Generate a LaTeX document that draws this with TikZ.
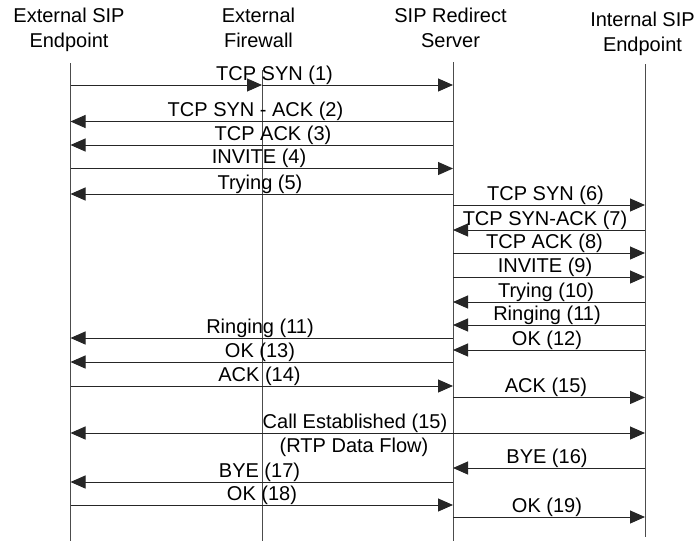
\documentclass[tikz,border=0pt]{standalone}
\usepackage{fontspec}
\setmainfont{Liberation Sans}
\usetikzlibrary{arrows.meta}
\begin{document}
\begin{tikzpicture}[x=1pt,y=-1pt,
  lifeline/.style={draw=black!70,line width=1pt},
  msg/.style={draw=black!85,line width=1pt,-{Triangle[length=15pt,width=13pt]}},
  dmsg/.style={draw=black!85,line width=1pt,{Triangle[length=15pt,width=13pt]}-{Triangle[length=15pt,width=13pt]}},
  lbl/.style={inner sep=0pt,anchor=base,font=\fontsize{20}{25}\selectfont},
  head/.style={inner sep=0pt,anchor=base,align=center,font=\fontsize{20}{25}\selectfont}]
\useasboundingbox[fill=white] (0,0) rectangle (696,541);
% headers (anchor at baseline of the last line)
\node[head] (hA) at (69,47) {External SIP\\Endpoint};
\node[head] (hF) at (258.5,47) {External\\Firewall};
\node[head] (hS) at (450.5,47) {SIP Redirect\\Server};
\node[head] (hI) at (642.5,51) {Internal SIP\\Endpoint};
% lifelines
\coordinate (A) at (70.5,63);   \coordinate (Ab) at (70.5,541);
\coordinate (F) at (262,70);    \coordinate (Fb) at (262,541);
\coordinate (S) at (453,62);    \coordinate (Sb) at (453,541);
\coordinate (I) at (645,64);    \coordinate (Ib) at (645,537);
\draw[lifeline] (A) -- (Ab);
\draw[lifeline] (F) -- (Fb);
\draw[lifeline] (S) -- (Sb);
\draw[lifeline] (I) -- (Ib);
% rows
\foreach \n/\y in {r1/85,r2/121.5,r3/145,r4/168.5,r5/194,r6/205,r7/230,r8/253,r9/277,r10/302,r11/325,r12/350,r13/338,r14/362,r15/386,r16/397.5,r17/433,r18/468,r19/482,r20/505,r21/517}
  \coordinate (\n) at (0,\y);
% messages
\draw[msg] (A |- r1) -- (F |- r1);
\draw[msg] (F |- r1) -- (S |- r1);
\draw[msg] (S |- r2) -- (A |- r2);
\draw[msg] (S |- r3) -- (A |- r3);
\draw[msg] (A |- r4) -- (S |- r4);
\draw[msg] (S |- r5) -- (A |- r5);
\draw[msg] (S |- r6) -- (I |- r6);
\draw[msg] (I |- r7) -- (S |- r7);
\draw[msg] (S |- r8) -- (I |- r8);
\draw[msg] (S |- r9) -- (I |- r9);
\draw[msg] (I |- r10) -- (S |- r10);
\draw[msg] (I |- r11) -- (S |- r11);
\draw[msg] (I |- r12) -- (S |- r12);
\draw[msg] (S |- r13) -- (A |- r13);
\draw[msg] (S |- r14) -- (A |- r14);
\draw[msg] (A |- r15) -- (S |- r15);
\draw[msg] (S |- r16) -- (I |- r16);
\draw[dmsg] (A |- r17) -- (I |- r17);
\draw[msg] (I |- r18) -- (S |- r18);
\draw[msg] (S |- r19) -- (A |- r19);
\draw[msg] (A |- r20) -- (S |- r20);
\draw[msg] (S |- r21) -- (I |- r21);
% labels
\node[lbl] (l1) at (274.5,80) {TCP SYN (1)};
\node[lbl] (l2) at (255.5,116.5) {TCP SYN - ACK (2)};
\node[lbl] (l3) at (273,140) {TCP ACK (3)};
\node[lbl] (l4) at (259,163.5) {INVITE (4)};
\node[lbl] (l5) at (260,189) {Trying (5)};
\node[lbl] (l6) at (545.5,200) {TCP SYN (6)};
\node[lbl] (l7) at (545,225) {TCP SYN-ACK (7)};
\node[lbl] (l8) at (544.5,248) {TCP ACK (8)};
\node[lbl] (l9) at (545,272) {INVITE (9)};
\node[lbl] (l10) at (546,297) {Trying (10)};
\node[lbl] (l11) at (547,320) {Ringing (11)};
\node[lbl] (l12) at (547,345) {OK (12)};
\node[lbl] (l13) at (260,333) {Ringing (11)};
\node[lbl] (l14) at (260,357) {OK (13)};
\node[lbl] (l15) at (259.5,381) {ACK (14)};
\node[lbl] (l16) at (546,392.5) {ACK (15)};
\node[lbl] (l17) at (355,428) {Call Established (15)};
\node[lbl] (l17b) at (354,452) {(RTP Data Flow)};
\node[lbl] (l18) at (547,463) {BYE (16)};
\node[lbl] (l19) at (259.5,477) {BYE (17)};
\node[lbl] (l20) at (262,500) {OK (18)};
\node[lbl] (l21) at (547,512) {OK (19)};
\end{tikzpicture}
\end{document}
